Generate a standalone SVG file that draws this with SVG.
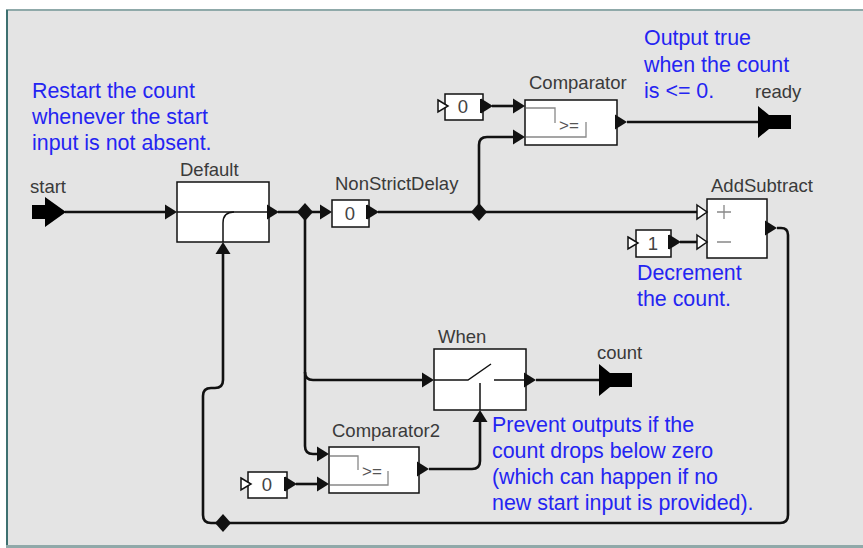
<svg xmlns="http://www.w3.org/2000/svg" width="863" height="548" viewBox="0 0 863 548">
<style>
.lbl{font-family:"Liberation Sans",Arial,sans-serif;font-size:18.5px;fill:#3a3a3a}
.note{font-family:"Liberation Sans",Arial,sans-serif;font-size:21.4px;fill:#2424f2}
.box{fill:#ffffff;stroke:#111;stroke-width:1.5}
.wire{fill:none;stroke:#111;stroke-width:2.6;stroke-linejoin:round}
.ah{fill:#111}
.hol{fill:#fff;stroke:#111;stroke-width:1.5}
.gl{fill:none;stroke:#888;stroke-width:1.3}
.gt{font-family:"Liberation Sans",Arial,sans-serif;font-size:17px;fill:#555}
.val{font-family:"Liberation Sans",Arial,sans-serif;font-size:18.5px;fill:#444;text-anchor:middle}
.port{fill:#000}
</style>
<rect x="0" y="0" width="863" height="548" fill="#ffffff"/>
<rect x="6" y="10" width="870" height="536" fill="#e4e4e4"/>
<line x1="6" y1="10" x2="863" y2="10" stroke="#8fa9a9" stroke-width="2"/>
<line x1="7" y1="10" x2="7" y2="546" stroke="#3d7070" stroke-width="2"/>
<line x1="6" y1="546.5" x2="863" y2="546.5" stroke="#90a9a9" stroke-width="3"/>

<g id="connectors">
<path class="wire" d="M65,212 H167"/>
<path class="wire" d="M278,212 H322"/>
<path class="wire" d="M305,212 V446 Q305,454 313,454 H319"/>
<path class="wire" d="M305,372 Q305,380 313,380 H424"/>
<path class="wire" d="M378,212 H698"/>
<path class="wire" d="M479,212 V145 Q479,137 487,137 H515"/>
<path class="wire" d="M492,106 H515"/>
<path class="wire" d="M627,122 H760"/>
<path class="wire" d="M680,242 H698"/>
<path class="wire" d="M777,228 H781 Q788,228 788,235 V515 Q788,523 780,523 H223"/>
<path class="wire" d="M223,523 H211 Q203,523 203,515 V396 Q203,388 211,388 H215 Q223,388 223,380 V252"/>
<path class="wire" d="M536,380 H601"/>
<path class="wire" d="M296,484 H319"/>
<path class="wire" d="M429,469 H472 Q480,469 480,461 V420"/>
<polygon class="ah" points="305,203 313,212 305,221 297,212"/>
<polygon class="ah" points="479,203 487,212 479,221 471,212"/>
<polygon class="ah" points="223,514 231,523 223,532 215,523"/>
</g>

<g id="start">
<polygon class="port" points="32,205 45,205 45,197 66,212 45,227 45,219 32,219"/>
<text class="lbl" x="30" y="193">start</text>
</g>

<g id="Default">
<rect class="box" x="177" y="182" width="92" height="60"/>
<line x1="177" y1="212" x2="269" y2="212" stroke="#111" stroke-width="1.5"/>
<path d="M223,242 V223 Q223,212 234,212" fill="none" stroke="#111" stroke-width="1.5"/>
<polygon class="ah" points="165,204.5 177,212 165,219.5"/>
<polygon class="ah" points="267,204.5 279,212 267,219.5"/>
<polygon class="ah" points="215.5,254 223,242 230.5,254"/>
<text class="lbl" x="180" y="176">Default</text>
</g>

<g id="NonStrictDelay">
<rect class="box" x="332" y="200" width="37" height="27"/>
<text class="val" x="350" y="220">0</text>
<polygon class="ah" points="320,204.5 332,212 320,219.5"/>
<rect class="ah" x="366" y="205" width="2" height="14"/>
<polygon class="ah" points="367,204.5 379,212 367,219.5"/>
<text class="lbl" x="335" y="190">NonStrictDelay</text>
</g>

<g id="Const">
<rect class="box" x="445" y="94" width="38" height="26"/>
<polygon class="hol" points="438,100 448,106 438,112"/>
<text class="val" x="463" y="113">0</text>
<rect class="ah" x="480" y="99" width="2" height="14"/>
<polygon class="ah" points="481,98.5 493,106 481,113.5"/>
</g>

<g id="Comparator">
<rect class="box" x="525" y="100" width="92" height="45"/>
<path class="gl" d="M526,108 H555 V123"/>
<path class="gl" d="M526,137 H586 V122"/>
<text class="gt" x="559" y="131">&gt;=</text>
<polygon class="ah" points="513,98.5 525,106 513,113.5"/>
<polygon class="ah" points="513,129.5 525,137 513,144.5"/>
<polygon class="ah" points="615,114.5 627,122 615,129.5"/>
<text class="lbl" x="529" y="89">Comparator</text>
</g>

<g id="ready">
<polygon class="port" points="758,106 769,115 791,115 791,129 769,129 758,138"/>
<text class="lbl" x="755" y="98">ready</text>
</g>

<g id="AddSubtract">
<rect class="box" x="707" y="199" width="60" height="59"/>
<path class="gl" d="M717,212 H731 M724,205 V219 M717,242 H731"/>
<polygon class="hol" points="697,205 707,212 697,219"/>
<polygon class="hol" points="697,235 707,242 697,249"/>
<polygon class="ah" points="765,220.5 777,228 765,235.5"/>
<text class="lbl" x="711" y="192">AddSubtract</text>
</g>

<g id="Const1">
<rect class="box" x="636" y="230" width="35" height="27"/>
<polygon class="hol" points="628,237 638,243 628,249"/>
<text class="val" x="653" y="250">1</text>
<rect class="ah" x="668" y="235" width="2" height="14"/>
<polygon class="ah" points="669,234.5 681,242 669,249.5"/>
</g>

<g id="When">
<rect class="box" x="434" y="349" width="92" height="61"/>
<path d="M434,380 H468 L491,364 M494,380 H526 M480,383 V410" fill="none" stroke="#111" stroke-width="1.5"/>
<polygon class="ah" points="422,372.5 434,380 422,387.5"/>
<polygon class="ah" points="524,372.5 536,380 524,387.5"/>
<polygon class="ah" points="472.5,422 480,410 487.5,422"/>
<text class="lbl" x="438" y="343">When</text>
</g>

<g id="count">
<polygon class="port" points="599,364 610,373 632,373 632,387 610,387 599,396"/>
<text class="lbl" x="597" y="359">count</text>
</g>

<g id="Comparator2">
<rect class="box" x="329" y="447" width="90" height="46"/>
<path class="gl" d="M330,456 H358 V470"/>
<path class="gl" d="M330,485 H388 V471"/>
<text class="gt" x="362" y="477">&gt;=</text>
<polygon class="ah" points="317,446.5 329,454 317,461.5"/>
<polygon class="ah" points="317,476.5 329,484 317,491.5"/>
<polygon class="ah" points="417,461.5 429,469 417,476.5"/>
<text class="lbl" x="332" y="437">Comparator2</text>
</g>

<g id="Const2">
<rect class="box" x="248" y="472" width="39" height="26"/>
<polygon class="hol" points="241,478 251,484 241,490"/>
<text class="val" x="267" y="491">0</text>
<rect class="ah" x="284" y="477" width="2" height="14"/>
<polygon class="ah" points="285,476.5 297,484 285,491.5"/>
</g>

<g id="annotations">
<text class="note" x="32" y="98">Restart the count</text>
<text class="note" x="32" y="124">whenever the start</text>
<text class="note" x="32" y="150">input is not absent.</text>
<text class="note" x="644" y="45">Output true</text>
<text class="note" x="644" y="72">when the count</text>
<text class="note" x="644" y="98">is &lt;= 0.</text>
<text class="note" x="637" y="280">Decrement</text>
<text class="note" x="637" y="306">the count.</text>
<text class="note" x="492" y="432">Prevent outputs if the</text>
<text class="note" x="492" y="458">count drops below zero</text>
<text class="note" x="492" y="484">(which can happen if no</text>
<text class="note" x="492" y="510">new start input is provided).</text>
</g>
</svg>
